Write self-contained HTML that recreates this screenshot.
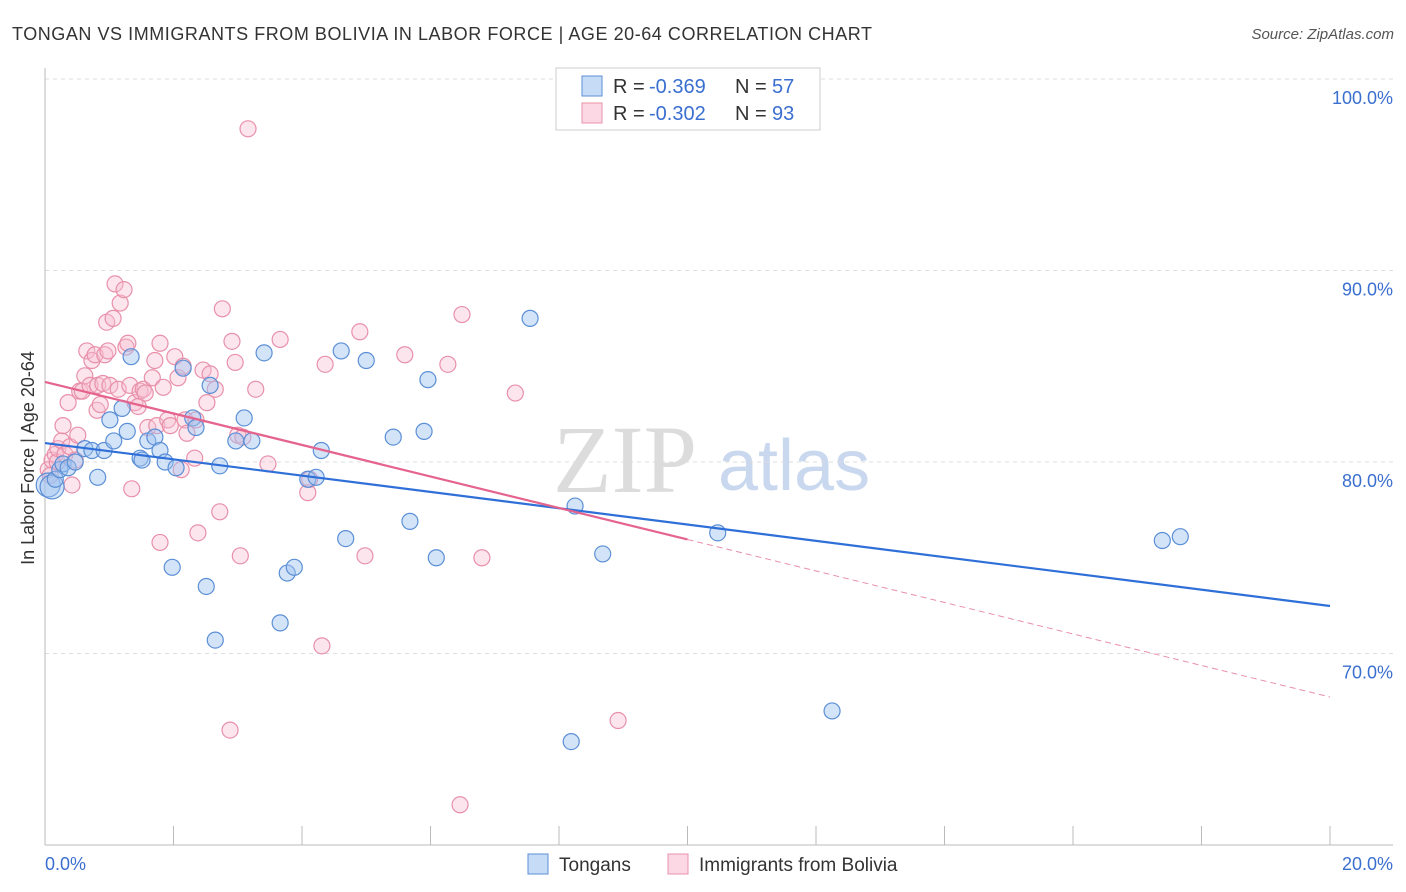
<!DOCTYPE html>
<html><head><meta charset="utf-8"><style>
body{margin:0;background:#fff;font-family:"Liberation Sans",sans-serif}
svg{display:block}
</style></head><body>
<svg id="c" width="1406" height="892">
<text x="12" y="40" font-size="18" fill="#333" textLength="860">TONGAN VS IMMIGRANTS FROM BOLIVIA IN LABOR FORCE | AGE 20-64 CORRELATION CHART</text>
<text x="1394" y="39" font-size="15" fill="#555" font-style="italic" text-anchor="end">Source: ZipAtlas.com</text>
<text x="34" y="458" font-size="18" fill="#333" text-anchor="middle" transform="rotate(-90 34 458)">In Labor Force | Age 20-64</text>
<g><text x="553" y="492" font-size="96" fill="#dcdcdc" font-family="Liberation Serif,serif">ZIP</text><text x="718" y="490" font-size="72" fill="#c9d8ee">atlas</text></g>
<g id="grid"></g><g id="pts"></g><g id="lines"></g>
<g>
<rect x="556" y="68" width="264" height="62" fill="#fff" stroke="#ccc"/>
<rect x="582" y="76" width="20" height="20" fill="rgba(160,195,240,0.6)" stroke="#5b8fd6"/>
<rect x="582" y="103" width="20" height="20" fill="rgba(248,190,210,0.6)" stroke="#e890aa"/>
<text x="613" y="93" font-size="20" fill="#333">R =</text><text x="649" y="93" font-size="20" fill="#3a6fd0">-0.369</text>
<text x="735" y="93" font-size="20" fill="#333">N =</text><text x="772" y="93" font-size="20" fill="#3a6fd0">57</text>
<text x="613" y="120" font-size="20" fill="#333">R =</text><text x="649" y="120" font-size="20" fill="#3a6fd0">-0.302</text>
<text x="735" y="120" font-size="20" fill="#333">N =</text><text x="772" y="120" font-size="20" fill="#3a6fd0">93</text>
</g>
<g>
<rect x="528" y="854" width="20" height="20" fill="rgba(160,195,240,0.6)" stroke="#5b8fd6"/>
<text x="559" y="871" font-size="19" fill="#333">Tongans</text>
<rect x="668" y="854" width="20" height="20" fill="rgba(248,190,210,0.6)" stroke="#e890aa"/>
<text x="699" y="871" font-size="19" fill="#333">Immigrants from Bolivia</text>
</g>
</svg>
<script>
const yTicks=[100,90,80,70];
const yTickLabels=["100.0%","90.0%","80.0%","70.0%"];
const xTicks=[0,2,4,6,8,10,12,14,16,18,20];
const blueX=[.05,.11,.16,.23,.28,.36,.47,.62,.73,.82,.92,1.01,1.07,1.20,1.28,1.34,1.48,1.51,1.60,1.71,1.79,1.87,1.98,2.04,2.15,2.30,2.35,2.51,2.57,2.65,2.72,2.97,3.10,3.22,3.41,3.66,3.77,3.88,4.09,4.22,4.30,4.61,4.68,5.00,5.42,5.68,5.90,5.96,6.09,7.55,8.19,8.25,8.68,10.47,12.25,17.39,17.67];
const blueY=[78.8,78.7,79.1,79.6,79.9,79.7,80.0,80.7,80.6,79.2,80.6,82.2,81.1,82.8,81.6,85.5,80.2,80.1,81.1,81.3,80.6,80.0,74.5,79.7,84.9,82.3,81.8,73.5,84.0,70.7,79.8,81.1,82.3,81.1,85.7,71.6,74.2,74.5,79.1,79.2,80.6,85.8,76.0,85.3,81.3,76.9,81.6,84.3,75.0,87.5,65.4,77.7,75.2,76.3,67.0,75.9,76.1];
const pinkX=[.05,.08,.11,.16,.19,.20,.26,.28,.31,.36,.39,.42,.47,.51,.54,.58,.62,.65,.70,.73,.78,.81,.82,.86,.90,.93,.96,.98,1.01,1.06,1.09,1.14,1.17,1.23,1.26,1.29,1.32,1.35,1.40,1.45,1.48,1.53,1.56,1.60,1.67,1.71,1.74,1.79,1.79,1.84,1.91,1.95,2.02,2.07,2.12,2.15,2.18,2.21,2.33,2.35,2.38,2.46,2.52,2.57,2.65,2.72,2.76,2.88,2.91,2.96,3.00,3.04,3.08,3.16,3.28,3.47,3.66,4.09,4.12,4.31,4.36,4.90,4.98,5.60,6.27,6.49,6.46,6.80,7.32,8.92];
const pinkY=[79.6,79.3,80.1,80.4,80.0,80.7,81.1,81.9,80.4,83.1,80.8,78.8,80.1,81.4,83.7,83.7,84.5,85.8,84.0,85.3,85.6,82.7,84.0,83.0,84.1,85.6,87.3,85.8,84.0,87.5,89.3,83.8,88.3,89.0,86.0,86.2,84.0,78.6,83.1,82.9,83.7,83.8,83.6,81.8,84.4,85.3,81.9,75.8,86.2,83.9,82.2,81.9,85.5,84.4,79.6,85.0,82.2,81.5,80.2,82.2,76.3,84.8,83.1,84.6,83.8,77.4,88.0,66.0,86.3,85.2,81.4,75.1,81.3,97.4,83.8,79.9,86.4,78.4,79.1,70.4,85.1,86.8,75.1,85.6,85.1,87.7,62.1,75.0,83.6,66.5];
const blueTrend=[80.99,72.48];
const pinkTrend=[84.18,67.73];
const pinkSolidEnd=10;
const X=v=>45+v*64.25, Y=v=>79+(100-v)*19.15;
const NS="http://www.w3.org/2000/svg";
function mk(t,a,p){const e=document.createElementNS(NS,t);for(const k in a)e.setAttribute(k,a[k]);p.appendChild(e);return e;}
const g=document.getElementById('grid');
yTicks.forEach((t,i)=>{
 const l=mk('line',{x1:45,x2:1393,y1:Y(t),y2:Y(t),stroke:'#ddd','stroke-dasharray':'4,4'},g);
 
 
 const tx=mk('text',{x:1393,y:Y(t)+25,'font-size':18,fill:'#3a6fd0','text-anchor':'end'},g);tx.textContent=yTickLabels[i];
 
 
});
mk('line',{x1:45,x2:45,y1:68,y2:845,stroke:'#bbb'},g);
mk('line',{x1:45,x2:1393,y1:845,y2:845,stroke:'#bbb'},g);
xTicks.forEach(t=>{const l=mk('line',{x1:X(t),x2:X(t),y1:826,y2:845,stroke:'#bbb'},g);
 
 });
let a=mk('text',{x:45,y:870,'font-size':18,fill:'#3a6fd0'},g);a.textContent="0.0%";


a=mk('text',{x:1393,y:870,'font-size':18,fill:'#3a6fd0','text-anchor':'end'},g);a.textContent="20.0%";


const p=document.getElementById('pts');
pinkX.forEach((x,i)=>{const c=mk('circle',{cx:X(x),cy:Y(pinkY[i]),r:8,fill:'rgba(248,190,210,0.4)',stroke:'#e890aa','stroke-width':1.2},p);
 
 });
blueX.forEach((x,i)=>{const c=mk('circle',{cx:X(x),cy:Y(blueY[i]),r:i<2?12:8,fill:'rgba(160,195,240,0.45)',stroke:'#5b8fd6','stroke-width':1.2},p);
 
 });
const L=document.getElementById('lines');
let t=mk('line',{x1:X(0),y1:Y(blueTrend[0]),x2:X(20),y2:Y(blueTrend[1]),stroke:'#2f6fd8','stroke-width':2.2},L);


const pm=v=>pinkTrend[0]+(pinkTrend[1]-pinkTrend[0])*v/20;
t=mk('line',{x1:X(0),y1:Y(pinkTrend[0]),x2:X(pinkSolidEnd),y2:Y(pm(pinkSolidEnd)),stroke:'#e4648e','stroke-width':2.2},L);


t=mk('line',{x1:X(pinkSolidEnd),y1:Y(pm(pinkSolidEnd)),x2:X(20),y2:Y(pinkTrend[1]),stroke:'#e890aa','stroke-width':1,'stroke-dasharray':'6,4'},L);


</script>
</body></html>
